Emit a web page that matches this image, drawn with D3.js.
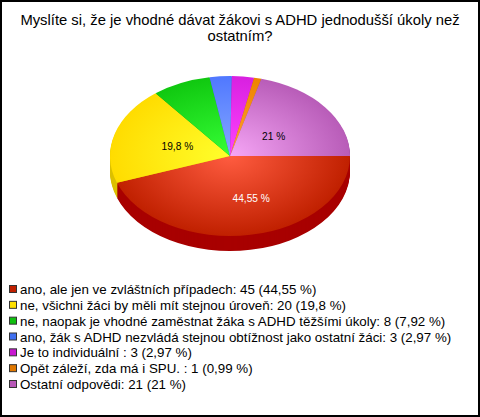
<!DOCTYPE html>
<html><head><meta charset="utf-8">
<script src="https://cdn.jsdelivr.net/npm/d3@7/dist/d3.min.js"></script>
<style>html,body{margin:0;padding:0;background:#fff}svg{display:block}text{font-family:"Liberation Sans",Arial,sans-serif}</style>
</head><body><svg id="c" width="480" height="417"></svg>
<script>
const titleLines = ["Myslíte si, že je vhodné dávat žákovi s ADHD jednodušší úkoly než","ostatním?"];
const counts = [45,20,8,3,3,1,21];
const labels = ["ano, ale jen ve zvláštních případech: 45 (44,55 %)","ne, všichni žáci by měli mít stejnou úroveň: 20 (19,8 %)","ne, naopak je vhodné zaměstnat žáka s ADHD těžšími úkoly: 8 (7,92 %)","ano, žák s ADHD nezvládá stejnou obtížnost jako ostatní žáci: 3 (2,97 %)","Je to individuální : 3 (2,97 %)","Opět záleží, zda má i SPU. : 1 (0,99 %)","Ostatní odpovědi: 21 (21 %)"];
const sliceLabels = ["44,55 %","19,8 %","","","","","21 %"];
const labelColors = ["#fff","#000","#000","#000","#000","#000","#000"];
const innerColors = ["#ff5c40","#ffff2c","#36ff36","#86a8ff","#ff44ff","#ffa030","#f6a6f6"];
const outerColors = ["#c02000","#ffdc00","#10c810","#5078ff","#d820e0","#ee8400","#b85cb8"];
const sideColors = ["#a80000","#dcc000","#0a9a0a","#3a58cc","#a818b0","#bb6800","#8e468e"];
const legendColors = ["#c02000","#ffe000","#10c010","#4070f0","#c818d0","#e07800","#b858b8"];
const labelNudgeX = [11,5,0,0,0,0,-4];
const labelNudgeY = [1,1.5,0,0,0,0,5];

const W=480,H=417,cx=230,cy=156,rx=120,ry=80,depth=15;
const svg=d3.select("#c");
svg.append("rect").attr("x",1).attr("y",1).attr("width",W-2).attr("height",H-2).attr("fill","#fff").attr("stroke","#000").attr("stroke-width",2);

svg.append("g").attr("text-anchor","middle").selectAll("text").data(titleLines).join("text")
  .attr("x",240).attr("y",(d,i)=>25+i*15.5).attr("font-size",14.8).attr("fill","#000").text(d=>d);

const pie=d3.pie().sort(null).startAngle(Math.PI/2).endAngle(Math.PI/2+2*Math.PI)(counts);
const arc=d3.arc().innerRadius(0).outerRadius(rx);
const defs=svg.append("defs");
counts.forEach((c,i)=>{
  const g=defs.append("radialGradient").attr("id","g"+i).attr("gradientUnits","userSpaceOnUse").attr("cx",0).attr("cy",0).attr("r",rx);
  g.append("stop").attr("offset",0).attr("stop-color",innerColors[i]);
  g.append("stop").attr("offset",1).attr("stop-color",outerColors[i]);
});
const sy=ry/rx;
d3.range(depth,0,-1).forEach(dz=>{
  svg.append("g").attr("transform",`translate(${cx},${cy+dz}) scale(1,${sy})`)
    .selectAll("path").data(pie).join("path").attr("d",arc).attr("fill",(d,i)=>sideColors[i]);
});
svg.append("g").attr("transform",`translate(${cx},${cy}) scale(1,${sy})`)
  .selectAll("path").data(pie).join("path").attr("d",arc).attr("fill",(d,i)=>`url(#g${i})`);

svg.append("g").attr("text-anchor","middle").attr("font-size",10.2).selectAll("text").data(pie).join("text")
  .attr("x",(d,i)=>{const a=(d.startAngle+d.endAngle)/2;return cx+Math.sin(a)*rx*0.5+labelNudgeX[i];})
  .attr("y",(d,i)=>{const a=(d.startAngle+d.endAngle)/2;return cy-Math.cos(a)*ry*0.52+4+labelNudgeY[i];})
  .attr("fill",(d,i)=>labelColors[i]).text((d,i)=>sliceLabels[i]);

const rowY=d3.scalePoint().domain(d3.range(labels.length)).range([290,385]);
const lg=svg.append("g").selectAll("g").data(labels).join("g").attr("transform",(d,i)=>`translate(0,${rowY(i)})`);
lg.append("rect").attr("x",9.5).attr("y",-4.5).attr("width",7).attr("height",7).attr("fill",(d,i)=>legendColors[i]).attr("stroke","#333").attr("stroke-width",1);
lg.append("text").attr("x",20).attr("y",4).attr("font-size",13.33).attr("fill","#000").text(d=>d);
</script></body></html>
